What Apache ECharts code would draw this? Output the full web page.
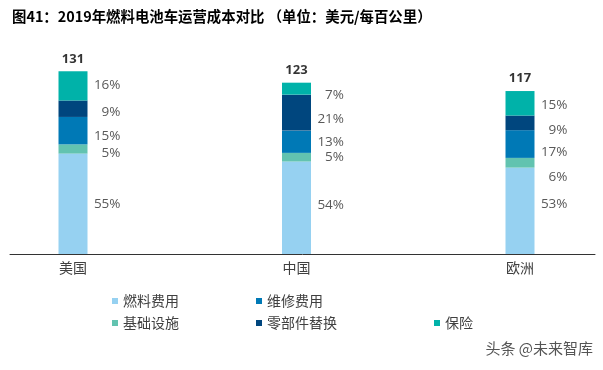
<!DOCTYPE html>
<html>
<head>
<meta charset="utf-8">
<script src="https://cdn.jsdelivr.net/npm/echarts@6/dist/echarts.min.js"></script>
<style>html,body{margin:0;padding:0;background:#fff;}#c{width:603px;height:370px;}</style>
</head>
<body>
<div id="c"></div>
<script>
// ---- data ----
const categories = ['美国', '中国', '欧洲'];
const totals = [131, 123, 117];
const fuel = [72.1, 66.4, 62.0];
const infra = [6.6, 6.2, 7.0];
const maint = [19.7, 16.0, 19.9];
const parts = [11.8, 25.8, 10.5];
const insurance = [21.0, 8.6, 17.6];
const fuelPct = ['55%', '54%', '53%'];
const infraPct = ['5%', '5%', '6%'];
const maintPct = ['15%', '13%', '17%'];
const partsPct = ['9%', '21%', '9%'];
const insurancePct = ['16%', '7%', '15%'];
const seriesNames = ['燃料费用', '基础设施', '维修费用', '零部件替换', '保险'];

// ---- style (label nudges, colours) ----
const colors = ['#96D1F1', '#62C3B0', '#0079B6', '#00467E', '#00B2A9'];
const labelDy = [
  [0, -3, -7],
  [4, 0, 14],
  [5, 0, 8],
  [3, 7, 7],
  [-1, 6, 2]
];
const FONT = "'Noto Sans CJK SC', 'Open Sans', sans-serif";
const PFONT = "'Open Sans', 'Noto Sans CJK SC', sans-serif";

const values = [fuel, infra, maint, parts, insurance];
const pcts = [fuelPct, infraPct, maintPct, partsPct, insurancePct];

const barSeries = seriesNames.map((name, s) => ({
  name: name,
  type: 'bar',
  stack: 'cost',
  barWidth: 29,
  clip: false,
  itemStyle: { color: colors[s] },
  data: values[s].map((v, i) => ({
    value: v,
    label: {
      show: true,
      position: 'right',
      distance: 33,
      align: 'right',
      offset: [0, labelDy[s][i]],
      formatter: pcts[s][i],
      fontFamily: PFONT,
      fontSize: 13.5,
      color: '#595959'
    }
  }))
}));

const totalSeries = {
  name: 'total',
  type: 'scatter',
  symbolSize: 0,
  clip: false,
  data: totals,
  label: {
    show: true,
    position: 'top',
    distance: 6,
    fontFamily: PFONT,
    fontWeight: 'bold',
    fontSize: 13,
    color: '#000'
  },
  z: 5
};

const legendPos = [
  [112, 294], // 燃料费用
  [112, 316], // 基础设施
  [256, 294], // 维修费用
  [256, 316], // 零部件替换
  [434, 316]  // 保险
];
const legends = seriesNames.map((n, s) => ({
  data: [n],
  left: legendPos[s][0],
  top: legendPos[s][1],
  padding: 0,
  icon: 'rect',
  itemWidth: 6,
  itemHeight: 6,
  itemGap: 5,
  selectedMode: false,
  textStyle: { fontFamily: FONT, fontSize: 14, color: '#404040', padding: [0, 0, 0, 0] }
}));

const chart = echarts.init(document.getElementById('c'), null, { renderer: 'canvas' });
chart.setOption({
  animation: false,
  backgroundColor: '#fff',
  title: [{
    text: '图41：2019年燃料电池车运营成本对比 （单位：美元/每百公里）',
    left: 12,
    top: 9,
    padding: 0,
    textStyle: { fontFamily: FONT, fontSize: 14.4, fontWeight: 'bold', color: '#000' }
  }],
  graphic: [{
    type: 'text',
    right: 10,
    top: 341,
    style: { text: '头条 @未来智库', fontFamily: FONT, fontSize: 15, fill: '#555' }
  }],
  legend: legends,
  grid: [
    { left: 73, right: 83, top: 59, bottom: 116 },
    { left: 10, right: 8, top: 59, bottom: 116 }
  ],
  xAxis: [
    {
      type: 'category',
      gridIndex: 0,
      data: categories,
      boundaryGap: false,
      axisLine: { show: false },
      axisTick: { show: false },
      axisLabel: { fontFamily: FONT, fontSize: 14, color: '#404040', margin: 7 }
    },
    {
      type: 'value',
      gridIndex: 1,
      min: 0,
      max: 1,
      axisLine: { show: true, lineStyle: { color: '#333', width: 1 } },
      axisTick: { show: false },
      axisLabel: { show: false },
      splitLine: { show: false }
    }
  ],
  yAxis: [
    { type: 'value', gridIndex: 0, min: 0, max: 140, show: false, splitLine: { show: false } },
    { type: 'value', gridIndex: 1, min: 0, max: 1, show: false, splitLine: { show: false } }
  ],
  series: barSeries.concat([totalSeries])
});
</script>
</body>
</html>
